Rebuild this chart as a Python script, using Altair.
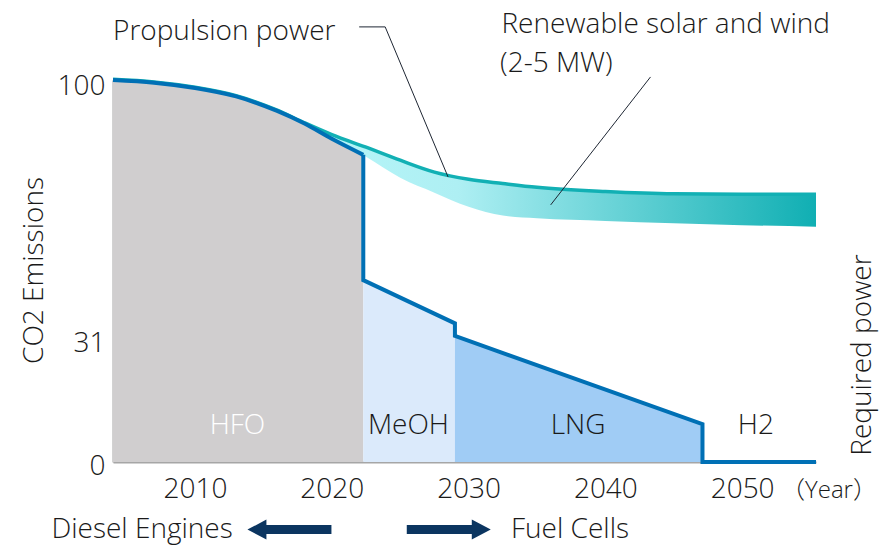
import altair as alt
import pandas as pd

# ---- data ----
hfo_years = [2004, 2007, 2010, 2013, 2016, 2018, 2020, 2022.3]
hfo_vals = [100, 99.3, 97.9, 95.7, 91.9, 88.6, 84.6, 80.4]

prop_years = [2004, 2007, 2010, 2013, 2016, 2018, 2020, 2022.5, 2025, 2027.5,
              2030, 2032.5, 2035, 2040, 2045, 2050, 2055.4]
prop_vals = [100.2, 99.5, 98.1, 95.9, 92.1, 88.8, 85.7, 82.4, 79.0, 75.9,
             74.0, 72.9, 71.9, 70.8, 70.2, 70.1, 70.1]

band_start = 5  # band starts at 2018
band_low = [88.6, 84.5, 79.9, 74.4, 70.5, 66.8, 64.5, 63.8, 63.1, 62.5, 62.0, 61.6]

step_years = [2022.3, 2022.3, 2029.0, 2029.0, 2047.1, 2047.1, 2055.4]
step_vals = [80.4, 47.6, 36.3, 33.0, 9.9, 0, 0]

fuel_labels = ["HFO", "MeOH", "LNG", "H2"]
fuel_label_x = [2013.1, 2025.6, 2038.0, 2051.0]
fuel_label_y = [7.3, 7.3, 7.3, 7.3]
fuel_label_color = ["#ffffff", "#1a1a1a", "#1a1a1a", "#1a1a1a"]

notes = ["Propulsion power", "Renewable solar and wind", "(2-5 MW)",
         "Diesel Engines", "Fuel Cells"]
note_x = [2004.0, 2032.4, 2032.3, 1999.5, 2033.1]
note_y = [110.6, 112.2, 102.2, -20.0, -20.0]

lead_group = ["p", "p", "p", "r", "r"]
lead_x = [2022.0, 2023.9, 2028.5, 2043.3, 2036.0]
lead_y = [113.9, 113.9, 74.6, 100.8, 67.3]

arrow_x = [2016.9, 2028.55]
arrow_y = [-17.7, -17.7]

FONT = "'Open Sans', 'Noto Sans CJK JP', sans-serif"
FS = 28
BLUE = "#0070b5"
TEAL = "#12b0b4"
INK = "#1a1a1a"

xs = alt.Scale(domain=[2004, 2055.4], nice=False, zero=False)
ys = alt.Scale(domain=[0, 100], nice=False, zero=False)

x_axis = alt.Axis(values=[2010, 2020, 2030, 2040, 2050], format="d", ticks=False, tickSize=0,
                  grid=False, domainColor="#a6a6a6", domainWidth=2, labelFontSize=FS,
                  labelFont=FONT, labelFontWeight=300, labelColor=INK, labelPadding=13,
                  labelFlush=False,
                  title="（Year）", titleX=715.5, titleY=35, titleAlign="center",
                  titleBaseline="alphabetic", titleFontSize=24, titleFontWeight=300,
                  titleFont=FONT, titleColor=INK)
y_axis = alt.Axis(values=[0, 31, 100], ticks=False, tickSize=0, grid=False,
                  domainColor="#a6a6a6", domainWidth=2, labelFontSize=FS, labelFont=FONT,
                  labelFontWeight=300, labelColor=INK, labelPadding=8, labelFlush=False,
                  labelOffset={"condition": [{"test": "datum.value == 31", "value": 0},
                                             {"test": "datum.value == 0", "value": 4}],
                               "value": 6},
                  title="CO2 Emissions", titleAngle=270, titleX=-71, titleY=190,
                  titleAlign="center", titleBaseline="alphabetic", titleFontSize=FS,
                  titleFontWeight=300, titleFont=FONT, titleColor=INK)


def X(f="x"):
    return alt.X(f"{f}:Q", scale=xs, axis=x_axis)


def Y(f="y"):
    return alt.Y(f"{f}:Q", scale=ys, axis=y_axis, stack=None)


hfo_df = pd.DataFrame({"x": hfo_years, "y": hfo_vals})
prop_df = pd.DataFrame({"x": prop_years, "y": prop_vals})
band_df = pd.DataFrame({"x": prop_years[band_start:], "top": prop_vals[band_start:], "low": band_low})
step_df = pd.DataFrame({"x": step_years, "y": step_vals, "o": list(range(len(step_years)))})
meoh_df = step_df.iloc[1:3]
lng_df = step_df.iloc[3:5]
lab_df = pd.DataFrame({"t": fuel_labels, "x": fuel_label_x, "y": fuel_label_y, "c": fuel_label_color})
note_df = pd.DataFrame({"t": notes, "x": note_x, "y": note_y})
lead_df = pd.DataFrame({"g": lead_group, "x": lead_x, "y": lead_y, "o": list(range(len(lead_x)))})
arrow_df = pd.DataFrame({"x": arrow_x, "y": arrow_y})

hfo_area = alt.Chart(hfo_df).mark_area(color="#d0cecf", interpolate="monotone").encode(x=X(), y=Y())
meoh_area = alt.Chart(meoh_df).mark_area(color="#dbeafb").encode(x=X(), y=Y())
lng_area = alt.Chart(lng_df).mark_area(color="#a0ccf5").encode(x=X(), y=Y())

band_fill = alt.Gradient(
    gradient="linear",
    stops=[alt.GradientStop(offset=0, color="#b6f6f9"),
           alt.GradientStop(offset=0.3, color="#aeeff3"),
           alt.GradientStop(offset=1, color="#10afb3")],
    x1=0, x2=1, y1=0, y2=0)
band = alt.Chart(band_df).mark_area(color=band_fill, interpolate="monotone").encode(
    x=X(), y=Y("low"), y2="top:Q")

prop_line = alt.Chart(prop_df).mark_line(color=TEAL, strokeWidth=3.5, interpolate="monotone").encode(x=X(), y=Y())
hfo_line = alt.Chart(hfo_df).mark_line(color=BLUE, strokeWidth=4, interpolate="monotone").encode(x=X(), y=Y())
step_line = alt.Chart(step_df).mark_line(color=BLUE, strokeWidth=4, strokeJoin="miter").encode(
    x=X(), y=Y(), order="o:Q")

leaders = alt.Chart(lead_df).mark_line(color="#1e2633", strokeWidth=1).encode(
    x=X(), y=Y(), detail="g:N", order="o:Q")

fuel_text = alt.Chart(lab_df).mark_text(font=FONT, fontSize=FS, fontWeight=300, align="center",
                                        baseline="alphabetic").encode(
    x=X(), y=Y(), text="t:N", color=alt.Color("c:N", scale=None))

note_text = alt.Chart(note_df).mark_text(font=FONT, fontSize=FS, fontWeight=300, align="left",
                                         baseline="alphabetic", color=INK).encode(
    x=X(), y=Y(), text="t:N")

req_text = alt.Chart(pd.DataFrame({"t": ["Required power"], "x": [2059.4], "y": [28.0]})).mark_text(
    font=FONT, fontSize=FS, fontWeight=300, align="center", baseline="alphabetic", angle=270,
    color=INK).encode(x=X(), y=Y(), text="t:N")

arrow_left = alt.Chart(arrow_df.iloc[[0]]).mark_point(
    shape="M -1 0 L -0.548 -0.238 L -0.548 -0.107 L 1 -0.107 L 1 0.107 L -0.548 0.107 L -0.548 0.238 Z",
    size=7056, filled=True, fill="#0b3560", opacity=1, strokeWidth=0).encode(x=X(), y=Y())
arrow_right = alt.Chart(arrow_df.iloc[[1]]).mark_point(
    shape="M 1 0 L 0.548 -0.238 L 0.548 -0.107 L -1 -0.107 L -1 0.107 L 0.548 0.107 L 0.548 0.238 Z",
    size=7056, filled=True, fill="#0b3560", opacity=1, strokeWidth=0).encode(x=X(), y=Y())

chart = alt.layer(
    hfo_area, meoh_area, lng_area, band, prop_line, hfo_line, step_line,
    leaders, fuel_text, note_text, req_text, arrow_left, arrow_right,
).properties(
    width=703, height=382,
    autosize=alt.AutoSizeParams(type="none"),
    padding={"left": 105, "top": 72, "right": 66, "bottom": 83},
    background="white",
).configure_view(stroke=None)

chart.save("out.html", embed_options={"renderer": "svg", "actions": False})
